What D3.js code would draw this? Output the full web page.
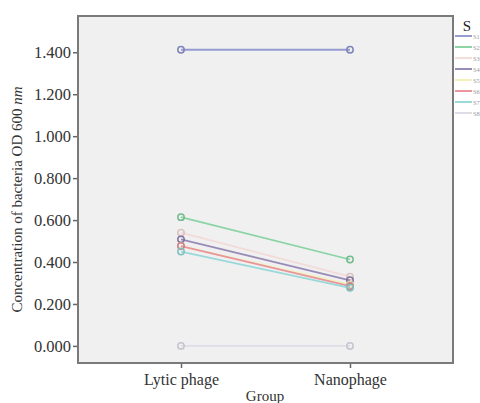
<!DOCTYPE html>
<html>
<head>
<meta charset="utf-8">
<script src="https://cdn.jsdelivr.net/npm/d3@7"></script>
<style>
  body { margin: 0; background: #fff; }
  svg { display: block; font-family: "Liberation Serif", "DejaVu Serif", serif; }
</style>
</head>
<body>
<div id="chart"></div>
<script>
// Data________________________________________
const groups = ["Lytic phage", "Nanophage"];
const seriesNames = ["S1", "S2", "S3", "S4", "S5", "S6", "S7", "S8"];
const seriesColors = ["#8c92cc", "#80d09c", "#f2d8d6", "#8f7fb0", "#f3efb4", "#e78c96", "#8fd6d6", "#ddd9e6"];
const lyticValues = [1.412, 0.614, 0.540, 0.508, 0.476, 0.476, 0.450, 0.000];
const nanoValues = [1.412, 0.412, 0.330, 0.313, 0.292, 0.285, 0.277, 0.000];
const yTicks = [0, 0.2, 0.4, 0.6, 0.8, 1.0, 1.2, 1.4];

// Layout______________________________________
const width = 480, height = 403;
const plot = { left: 78, right: 453, top: 16, bottom: 363 };

const svg = d3.select("#chart").append("svg")
    .attr("width", width)
    .attr("height", height);

const xScale = d3.scalePoint()
    .domain(groups)
    .range([181, 350]);

const yScale = d3.scaleLinear()
    .domain([-0.0815, 1.573])
    .range([plot.bottom, plot.top]);

// Plot background
svg.append("rect")
    .attr("x", plot.left)
    .attr("y", plot.top)
    .attr("width", plot.right - plot.left)
    .attr("height", plot.bottom - plot.top)
    .attr("fill", "#f0f0f0");

// Lines and points
const lines = seriesNames.map((name, i) => ({
    name: name,
    color: seriesColors[i],
    values: [lyticValues[i], nanoValues[i]]
}));

const line = d3.line()
    .x((d, i) => xScale(groups[i]))
    .y(d => yScale(d));

const seriesG = svg.selectAll(".series")
    .data(lines)
    .enter()
    .append("g")
    .attr("class", "series");

seriesG.append("path")
    .attr("d", d => line(d.values))
    .attr("fill", "none")
    .attr("stroke", d => d.color)
    .attr("stroke-width", 1.8)
    .attr("stroke-opacity", 0.9);

seriesG.selectAll("circle")
    .data(d => d.values.map((v, i) => ({ v: v, i: i, color: d.color })))
    .enter()
    .append("circle")
    .attr("cx", d => xScale(groups[d.i]))
    .attr("cy", d => yScale(d.v))
    .attr("r", 3.2)
    .attr("fill", "none")
    .attr("stroke", d => d3.color(d.color).darker(0.3))
    .attr("stroke-width", 1.5);

// Frame
svg.append("rect")
    .attr("x", plot.left)
    .attr("y", plot.top)
    .attr("width", plot.right - plot.left)
    .attr("height", plot.bottom - plot.top)
    .attr("fill", "none")
    .attr("stroke", "#7a7a7a")
    .attr("stroke-width", 2);

// Axes________________________________________
const yAxis = d3.axisLeft(yScale)
    .tickValues(yTicks)
    .tickFormat(d3.format(".3f"))
    .tickSize(4)
    .tickPadding(2);

const xAxis = d3.axisBottom(xScale)
    .tickSize(4)
    .tickPadding(6);

const yG = svg.append("g")
    .attr("transform", `translate(${plot.left - 1},0)`)
    .call(yAxis);

const xG = svg.append("g")
    .attr("transform", `translate(0,${plot.bottom + 1})`)
    .call(xAxis);

[yG, xG].forEach(g => {
    g.attr("font-family", "Liberation Serif, serif")
        .attr("font-size", 16.5);
    g.select(".domain").remove();
    g.selectAll(".tick line").attr("stroke", "#666").attr("stroke-width", 1.5);
    g.selectAll("text").attr("fill", "#333");
});
xG.attr("font-size", 16);

// Axis titles
svg.append("text")
    .attr("transform", `translate(22,${(plot.top + plot.bottom) / 2 + 10}) rotate(-90)`)
    .attr("text-anchor", "middle")
    .attr("fill", "#333")
    .style("font-size", "15px")
    .html("Concentration of bacteria OD 600 <tspan font-style='italic'>nm</tspan>");

svg.append("text")
    .attr("x", 265)
    .attr("y", 401)
    .attr("text-anchor", "middle")
    .attr("fill", "#333")
    .style("font-size", "15px")
    .text("Group");

// Legend______________________________________
const legend = svg.append("g")
    .attr("transform", "translate(455,0)");

legend.append("text")
    .attr("x", 12)
    .attr("y", 31)
    .attr("text-anchor", "middle")
    .attr("fill", "#222")
    .style("font-size", "15px")
    .text("S");

const entry = legend.selectAll(".entry")
    .data(lines)
    .enter()
    .append("g")
    .attr("class", "entry")
    .attr("transform", (d, i) => `translate(0,${36 + i * 11})`);

entry.append("line")
    .attr("x1", 0)
    .attr("x2", 17)
    .attr("stroke", d => d.color)
    .attr("stroke-width", 1.8);

entry.append("text")
    .attr("x", 18)
    .attr("y", 2.5)
    .attr("fill", "#999")
    .style("font-size", "6.5px")
    .text(d => d.name);
</script>
</body>
</html>
